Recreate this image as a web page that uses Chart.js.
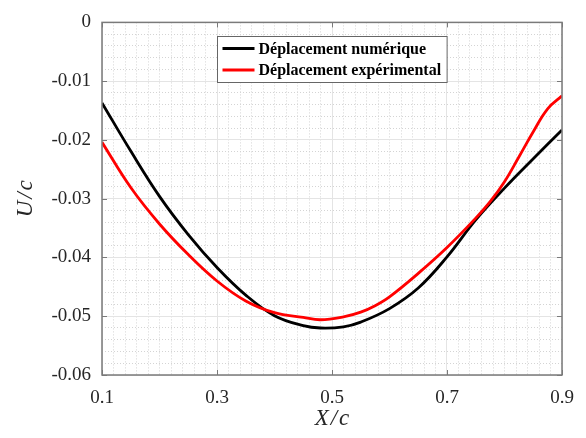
<!DOCTYPE html>
<html>
<head>
<meta charset="utf-8">
<script src="https://cdn.jsdelivr.net/npm/chart.js@4/dist/chart.umd.min.js"></script>
<style>
  html, body { margin: 0; padding: 0; background: #ffffff; }
  canvas { display: block; }
</style>
</head>
<body>
<canvas id="c" width="586" height="438"></canvas>
<script>
// ---- Data ----
const xNum = [0.10, 0.15, 0.20, 0.25, 0.30, 0.35, 0.40, 0.45, 0.48, 0.52, 0.55, 0.60, 0.65, 0.70, 0.75, 0.80, 0.85, 0.90];
const uNum = [-0.0137, -0.0219, -0.0296, -0.0361, -0.0417, -0.0464, -0.0499, -0.0516, -0.0520, -0.0518, -0.0510, -0.0487, -0.0452, -0.0399, -0.0336, -0.0282, -0.0232, -0.0183];

const xExp = [0.10, 0.15, 0.20, 0.25, 0.30, 0.35, 0.40, 0.45, 0.48, 0.52, 0.55, 0.575, 0.60, 0.65, 0.70, 0.75, 0.775, 0.80, 0.825, 0.85, 0.875, 0.90];
const uExp = [-0.0204, -0.0281, -0.0343, -0.0395, -0.0440, -0.0474, -0.0494, -0.0502, -0.0506, -0.0501, -0.0493, -0.0482, -0.0467, -0.0427, -0.0383, -0.0333, -0.0305, -0.0271, -0.0229, -0.0186, -0.0147, -0.0125];

const seriesLabels = ['Déplacement numérique', 'Déplacement expérimental'];
const xTickValues = [0.1, 0.3, 0.5, 0.7, 0.9];
const yTickValues = [-0.06, -0.05, -0.04, -0.03, -0.02, -0.01, 0];
const xTitle = 'X\u200A/\u200Ac';
const yTitle = 'U\u200A/\u200Ac';

// minor grid positions (every 0.02 in x, 0.002 in y), excluding the major ones
const xMinorValues = [];
for (let i = 1; i < 40; i++) { if (i % 10 !== 0) xMinorValues.push(+(0.1 + i * 0.02).toFixed(3)); }
const yMinorValues = [];
for (let i = 1; i < 30; i++) { if (i % 5 !== 0) yMinorValues.push(+(-0.06 + i * 0.002).toFixed(4)); }

const toPts = (xs, ys) => xs.map((x, i) => ({ x: x, y: ys[i] }));

const SERIF = '"Liberation Serif", "Times New Roman", serif';
const AXIS_COLOR = '#7a7a7a';

const frameAndTicks = {
  id: 'frameAndTicks',
  afterDatasetsDraw(chart) {
    const { ctx, chartArea: a, scales } = chart;
    ctx.save();
    ctx.strokeStyle = AXIS_COLOR;
    ctx.lineWidth = 1;
    const L = 5;
    ctx.beginPath();
    scales.x.ticks.forEach(t => {
      const px = Math.round(scales.x.getPixelForValue(t.value)) + 0.5;
      ctx.moveTo(px, a.bottom); ctx.lineTo(px, a.bottom - L);
      ctx.moveTo(px, a.top); ctx.lineTo(px, a.top + L);
    });
    scales.y.ticks.forEach(t => {
      const py = Math.round(scales.y.getPixelForValue(t.value)) + 0.5;
      ctx.moveTo(a.left, py); ctx.lineTo(a.left + L, py);
      ctx.moveTo(a.right, py); ctx.lineTo(a.right - L, py);
    });
    ctx.stroke();
    ctx.lineWidth = 1.5;
    ctx.strokeRect(a.left, a.top, a.right - a.left, a.bottom - a.top);
    ctx.restore();
  }
};

const boxLegend = {
  id: 'boxLegend',
  afterDraw(chart) {
    const { ctx, chartArea: a } = chart;
    const ds = chart.data.datasets;
    ctx.save();
    ctx.font = 'bold 16px ' + SERIF;
    let maxW = 0;
    ds.forEach(d => { maxW = Math.max(maxW, ctx.measureText(d.label).width); });
    const padL = 5, lineLen = 32, gap = 4, padR = 6;
    const w = padL + lineLen + gap + maxW + padR;
    const h = 46;
    const left = Math.round((a.left + a.right) / 2 - w / 2) + 0.5;
    const top = Math.round(a.top + 14) + 0.5;
    ctx.fillStyle = '#ffffff';
    ctx.fillRect(left, top, w, h);
    ctx.strokeStyle = '#666666';
    ctx.lineWidth = 1;
    ctx.strokeRect(left, top, w, h);
    const rows = [12, 33.5];
    ds.forEach((d, i) => {
      const y = top + rows[i];
      ctx.strokeStyle = d.borderColor;
      ctx.lineWidth = 3;
      ctx.beginPath();
      ctx.moveTo(left + padL, y);
      ctx.lineTo(left + padL + lineLen, y);
      ctx.stroke();
      ctx.fillStyle = '#000000';
      ctx.textBaseline = 'middle';
      ctx.textAlign = 'left';
      ctx.fillText(d.label, left + padL + lineLen + gap, y + 1);
    });
    ctx.restore();
  }
};

new Chart(document.getElementById('c'), {
  type: 'line',
  data: {
    datasets: [
      {
        label: seriesLabels[0],
        data: toPts(xNum, uNum),
        borderColor: '#000000',
        borderWidth: 2.8,
        pointRadius: 0,
        tension: 0.4,
        fill: false,
        order: 1
      },
      {
        label: seriesLabels[1],
        data: toPts(xExp, uExp),
        borderColor: '#ff0000',
        borderWidth: 2.8,
        pointRadius: 0,
        tension: 0.4,
        fill: false,
        order: 0
      }
    ]
  },
  plugins: [frameAndTicks, boxLegend],
  options: {
    responsive: false,
    devicePixelRatio: 1,
    animation: false,
    layout: { padding: { top: 19, right: 24, left: 0, bottom: 0 } },
    plugins: { legend: { display: false }, tooltip: { enabled: false } },
    scales: {
      xMinor: {
        type: 'linear', position: 'bottom', min: 0.1, max: 0.9,
        afterBuildTicks: s => { s.ticks = xMinorValues.map(v => ({ value: v })); },
        ticks: { display: false },
        grid: { color: '#d4d4d4', lineWidth: 1, drawTicks: false },
        border: { display: false, dash: [1, 2] },
        afterFit: s => { s.height = 0; }
      },
      yMinor: {
        type: 'linear', position: 'left', min: -0.06, max: 0,
        afterBuildTicks: s => { s.ticks = yMinorValues.map(v => ({ value: v })); },
        ticks: { display: false },
        grid: { color: '#d4d4d4', lineWidth: 1, drawTicks: false },
        border: { display: false, dash: [1, 2] },
        afterFit: s => { s.width = 0; }
      },
      x: {
        type: 'linear', position: 'bottom', min: 0.1, max: 0.9,
        afterBuildTicks: s => { s.ticks = xTickValues.map(v => ({ value: v })); },
        ticks: {
          color: '#262626', padding: 12,
          font: { family: SERIF, size: 19 },
          callback: v => String(v)
        },
        grid: { color: '#e4e4e4', lineWidth: 1, drawTicks: false },
        border: { display: false },
        title: {
          display: true, text: xTitle, color: '#262626',
          font: { family: SERIF, size: 23, style: 'italic' },
          padding: { top: 0, bottom: 5 }
        },
        afterFit: s => { s.height = 63; }
      },
      y: {
        type: 'linear', position: 'left', min: -0.06, max: 0,
        afterBuildTicks: s => { s.ticks = yTickValues.map(v => ({ value: v })); },
        ticks: {
          color: '#262626', padding: 11,
          font: { family: SERIF, size: 19 },
          callback: v => (Math.abs(v) < 1e-9 ? '0' : v.toFixed(2))
        },
        grid: { color: '#e4e4e4', lineWidth: 1, drawTicks: false },
        border: { display: false },
        title: {
          display: true, text: yTitle, color: '#262626',
          font: { family: SERIF, size: 23, style: 'italic' },
          padding: { top: 12, bottom: 0 }
        },
        afterFit: s => { s.width = 102; }
      }
    }
  }
});
</script>
</body>
</html>
